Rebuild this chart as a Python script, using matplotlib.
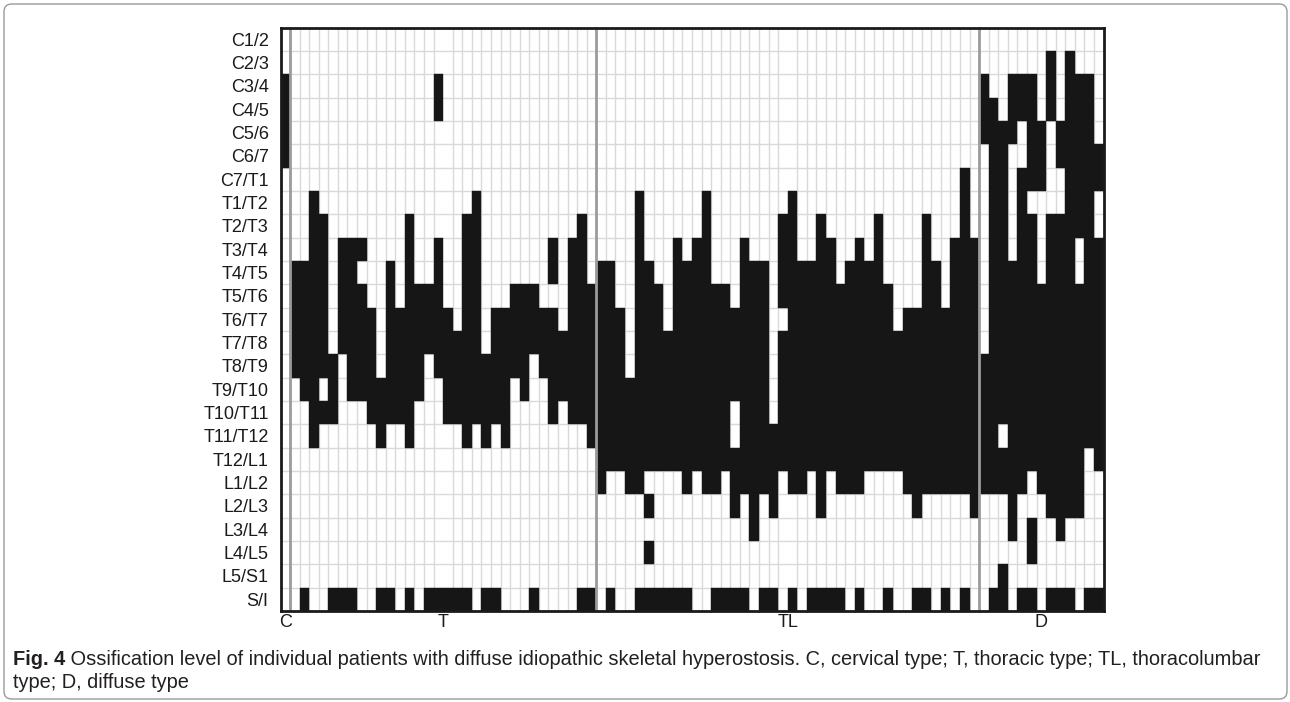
import matplotlib
matplotlib.use("Agg")
import matplotlib.pyplot as plt
from matplotlib.patches import FancyBboxPatch
import numpy as np

plt.rcParams['font.family'] = ['Liberation Sans', 'DejaVu Sans']

levels = ["C1/2", "C2/3", "C3/4", "C4/5", "C5/6", "C6/7", "C7/T1", "T1/T2", "T2/T3",
          "T3/T4", "T4/T5", "T5/T6", "T6/T7", "T7/T8", "T8/T9", "T9/T10", "T10/T11",
          "T11/T12", "T12/L1", "L1/L2", "L2/L3", "L3/L4", "L4/L5", "L5/S1", "S/I"]

group_names = ["C", "T", "TL", "D"]

# each patient = list of ossified level runs (first, last) as indices into `levels`
c_type = [[(2, 5)]]

t_type = [
    [(10, 14)], [(10, 15), (24, 24)], [(7, 17)], [(8, 14), (16, 16)],
    [(14, 16), (24, 24)], [(9, 13), (24, 24)], [(9, 15), (24, 24)], [(9, 9), (11, 15)],
    [(12, 16)], [(15, 17), (24, 24)], [(10, 16), (24, 24)], [(12, 16)],
    [(8, 17), (24, 24)], [(11, 15)], [(11, 13), (24, 24)], [(2, 3), (9, 14), (24, 24)],
    [(12, 16), (24, 24)], [(13, 16), (24, 24)], [(8, 17), (24, 24)], [(7, 16)],
    [(14, 17), (24, 24)], [(12, 16), (24, 24)], [(12, 17)], [(11, 14)],
    [(11, 15)], [(11, 13), (24, 24)], [(12, 14)], [(9, 10), (12, 16)],
    [(13, 15)], [(9, 16)], [(8, 16), (24, 24)], [(11, 17), (24, 24)],
]

tl_type = [
    [(10, 19)], [(10, 18), (24, 24)], [(12, 18)], [(15, 19)],
    [(7, 19), (24, 24)], [(10, 18), (20, 20), (22, 22), (24, 24)], [(11, 18), (24, 24)],
    [(13, 18), (24, 24)], [(9, 18), (24, 24)], [(10, 19), (24, 24)], [(9, 18)],
    [(7, 19)], [(11, 19), (24, 24)], [(11, 18), (24, 24)], [(12, 15), (18, 20), (24, 24)],
    [(9, 19), (24, 24)], [(10, 21)], [(10, 19), (24, 24)], [(17, 20), (24, 24)],
    [(8, 11), (13, 18)], [(7, 19), (24, 24)], [(10, 19)], [(10, 18), (24, 24)],
    [(8, 20), (24, 24)], [(9, 18), (24, 24)], [(11, 19), (24, 24)], [(10, 19)],
    [(9, 19), (24, 24)], [(10, 18)], [(8, 18)], [(11, 18), (24, 24)],
    [(13, 18)], [(12, 19)], [(12, 20), (24, 24)], [(8, 19), (24, 24)],
    [(10, 19)], [(12, 19), (24, 24)], [(9, 19)], [(6, 19), (24, 24)], [(9, 20)],
]

d_type = [
    [(2, 4), (14, 19)],
    [(3, 19), (24, 24)],
    [(4, 16), (18, 19), (23, 24)],
    [(2, 4), (10, 21)],
    [(2, 3), (6, 19), (24, 24)],
    [(2, 6), (8, 18), (21, 22), (24, 24)],
    [(4, 6), (11, 19)],
    [(1, 3), (8, 20), (24, 24)],
    [(4, 5), (8, 21), (24, 24)],
    [(1, 20), (24, 24)],
    [(2, 8), (11, 20)],
    [(2, 17), (24, 24)],
    [(5, 6), (9, 18), (24, 24)],
]

groups = [c_type, t_type, tl_type, d_type]
patients = [p for g in groups for p in g]
n_pat = len(patients)
n_lev = len(levels)

W, H = 1290, 702
fig = plt.figure(figsize=(W / 100, H / 100), dpi=100)
fig.patch.set_facecolor("white")

# outer rounded frame
frame = FancyBboxPatch((4 / W, 3 / H), 1283 / W, 695 / H,
                       boxstyle="round,pad=0,rounding_size=0.006",
                       mutation_aspect=W / H, transform=fig.transFigure,
                       fill=False, ec="#9a9a9a", lw=1.0)
fig.patches.append(frame)

ax_l, ax_r, ax_t, ax_b = 280.5, 1103.5, 27.5, 611
ax = fig.add_axes([ax_l / W, 1 - ax_b / H, (ax_r - ax_l) / W, (ax_b - ax_t) / H])
ax.set_xlim(0, n_pat)
ax.set_ylim(n_lev, 0)

# light grid
ax.set_xticks(np.arange(n_pat + 1), minor=True)
ax.set_yticks(np.arange(n_lev + 1), minor=True)
ax.grid(which="minor", color="#d9d9d9", lw=1.0)
ax.tick_params(which="minor", length=0)
ax.set_axisbelow(True)

# ossified cells
cell = "#161616"
for i, runs in enumerate(patients):
    for a, b in runs:
        ax.bar(i + 0.5, b - a + 1, bottom=a, width=1.0, color=cell,
               edgecolor=cell, linewidth=0.3, zorder=2)

# group separators
sizes = [len(g) for g in groups]
bounds = np.cumsum(sizes)
for bx in bounds[:-1]:
    ax.axvline(bx, color="#9c9c9c", lw=2.0, zorder=3)

starts = np.concatenate([[0], bounds[:-1]])
centers = starts + np.array(sizes) / 2
ax.set_xticks(centers)
ax.set_xticklabels(group_names, fontsize=13, color="#1a1a1a")
ax.set_yticks(np.arange(n_lev) + 0.5)
ax.set_yticklabels(levels, fontsize=13, color="#1a1a1a")
ax.tick_params(which="major", axis="y", length=0, pad=8.5)
ax.tick_params(which="major", axis="x", length=0, pad=2)

for s in ax.spines.values():
    s.set_color("#1a1a1a")
    s.set_linewidth(2.0)
    s.set_zorder(4)

# caption
cap_col = "#231f20"
cap_fs = 14.4
t1 = fig.text(13 / W, 1 - 665 / H, "Fig. 4", fontsize=cap_fs, fontweight="bold",
              color=cap_col, va="baseline")
ax.annotate(" Ossification level of individual patients with diffuse idiopathic skeletal "
            "hyperostosis. C, cervical type; T, thoracic type; TL, thoracolumbar",
            xy=(1, 0), xycoords=t1, va="bottom", ha="left", fontsize=cap_fs,
            color=cap_col, annotation_clip=False)
fig.text(13 / W, 1 - 688 / H, "type; D, diffuse type", fontsize=cap_fs, color=cap_col,
         va="baseline")

fig.savefig("out.png", dpi=100)
